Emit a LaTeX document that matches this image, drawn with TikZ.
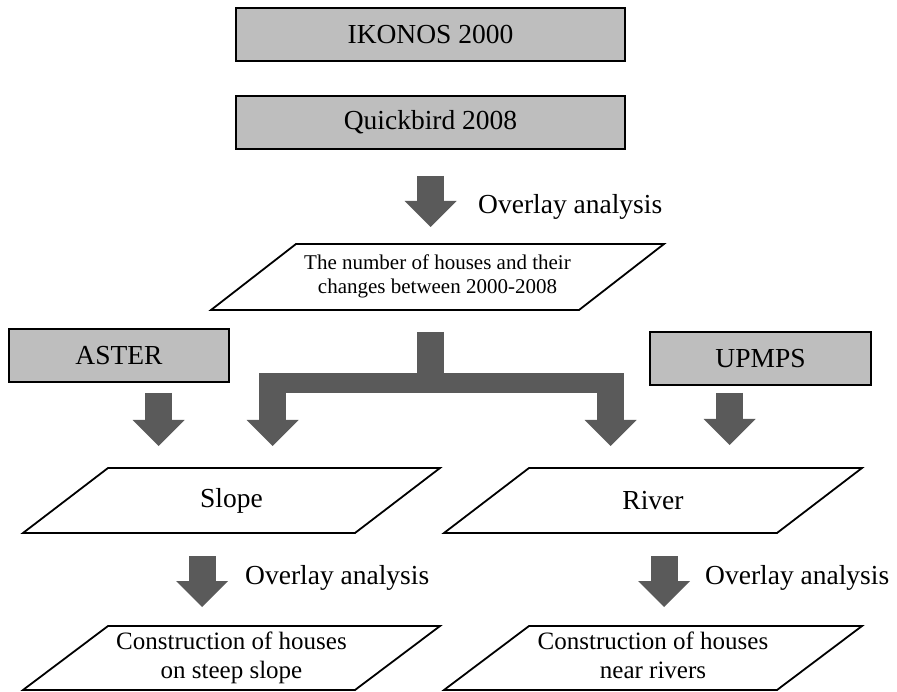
\documentclass[tikz,border=0pt]{standalone}
\usepackage{fontspec}
\setmainfont{Liberation Serif}
\usetikzlibrary{arrows.meta,positioning,calc}
\definecolor{srcGray}{HTML}{BEBEBE}
\definecolor{arrGray}{HTML}{5A5A5A}
\newcommand{\bigtxt}{\fontsize{27.5}{33}\selectfont}
\newcommand{\slantbox}[1]{\draw[pline] ([xshift=85pt]#1.north west) -- (#1.north east) -- ([xshift=-85pt]#1.south east) -- (#1.south west) -- cycle;}

\begin{document}
\begin{tikzpicture}[
  x=1pt, y=1pt,
  node distance=35pt,
  src/.style={draw, line width=1.8pt, fill=srcGray, minimum height=53pt, inner sep=0pt, outer sep=0pt, font=\bigtxt},
  para/.style={inner sep=0pt, outer sep=0pt, minimum height=65pt, align=center, font=\bigtxt},
  lab/.style={anchor=west, inner sep=0pt, font=\bigtxt},
  bigarr/.style={line width=27pt, color=arrGray, -{Triangle[length=26pt, width=52pt, line width=0pt]}},
  stemline/.style={line width=27pt, color=arrGray},
  barline/.style={line width=20pt, color=arrGray},
  pline/.style={line width=1.8pt, line join=miter}
]
\useasboundingbox (0,0) rectangle (897,-692);

% sources
\node[src, minimum width=389pt] (ikonos) at (430.5,-34.5) {IKONOS 2000};
\node[src, minimum width=389pt, below=35pt of ikonos] (quick) {Quickbird 2008};
\node[src, minimum width=220pt] (aster) at (119,-355.5) {ASTER};
\node[src, minimum width=221pt] (upmps) at (760.5,-358.5) {UPMPS};

% results
\node[para, minimum width=453pt, minimum height=66pt, font=\fontsize{21}{24}\selectfont] (count) at (437.5,-277) {The number of houses and their\strut\\changes between 2000-2008\strut};
\node[para, minimum width=417pt] (slope) at (231.5,-500.5) {Slope};
\node[para, minimum width=418pt] (river) at (653,-500.5) {River};
\node[para, minimum width=417pt, minimum height=64pt, below=93pt of slope, font=\fontsize{25}{29}\selectfont] (steep) {Construction of houses\strut\\on steep slope\strut};
\node[para, minimum width=418pt, minimum height=64pt, below=93pt of river, font=\fontsize{25}{29}\selectfont] (nearriv) {Construction of houses\strut\\near rivers\strut};
\slantbox{count}
\slantbox{slope}
\slantbox{river}
\slantbox{steep}
\slantbox{nearriv}

% overlay labels
\node[lab] (ovl1) at (478,-207) {Overlay analysis};
\node[lab] (ovl2) at (245,-578) {Overlay analysis};
\node[lab] (ovl3) at (705,-578) {Overlay analysis};

% block arrows
\draw[bigarr, shorten <=27pt, shorten >=17pt] (quick.south) -- (quick.south |- count.north);

\coordinate (tjoin) at ($(quick.south |- count.south)+(0,-73)$);
\coordinate (tleft) at ($(slope.north |- tjoin)+(41,0)$);
\coordinate (tright) at ($(river.north |- tjoin)+(-42.5,0)$);
\draw[stemline, shorten <=22pt] (quick.south |- count.south) -- (tjoin);
\draw[barline, shorten <=-13.5pt, shorten >=-13.5pt] (tleft) -- (tright);
\draw[bigarr, shorten >=22pt] (tleft) -- (tleft |- slope.north);
\draw[bigarr, shorten >=22pt] (tright) -- (tright |- river.north);

\coordinate (asterout) at ($(aster.south)+(39.5,0)$);
\draw[bigarr, shorten <=11pt, shorten >=22pt] (asterout) -- (asterout |- slope.north);
\coordinate (upmpsout) at ($(upmps.south)+(-31,0)$);
\draw[bigarr, shorten <=8pt, shorten >=23pt] (upmpsout) -- (upmpsout |- river.north);

\coordinate (slopeout) at ($(slope.south)+(-29.5,0)$);
\draw[bigarr, shorten <=23pt, shorten >=19pt] (slopeout) -- (slopeout |- steep.north);
\coordinate (riverout) at ($(river.south)+(11,0)$);
\draw[bigarr, shorten <=23pt, shorten >=19pt] (riverout) -- (riverout |- nearriv.north);
\end{tikzpicture}
\end{document}
